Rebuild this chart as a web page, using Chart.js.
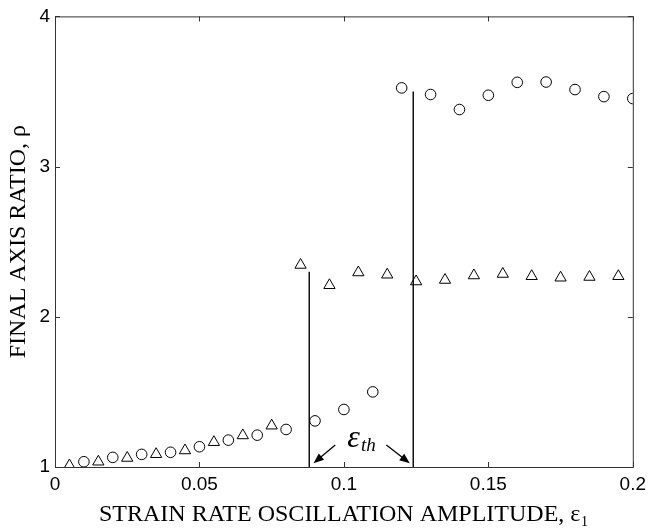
<!DOCTYPE html>
<html>
<head>
<meta charset="utf-8">
<script src="https://cdn.jsdelivr.net/npm/chart.js@4/dist/chart.umd.min.js"></script>
<style>
  html, body { margin: 0; padding: 0; background: #fff; }
</style>
</head>
<body>
<canvas id="ratioChart" width="652" height="529"></canvas>
<script>
// data
const triangleX = [0.005, 0.015, 0.025, 0.035, 0.045, 0.055, 0.065, 0.075, 0.085, 0.095,
                   0.105, 0.115, 0.125, 0.135, 0.145, 0.155, 0.165, 0.175, 0.185, 0.195];
const triangleY = [1.01, 1.035, 1.06, 1.085, 1.11, 1.165, 1.21, 1.275, 2.345, 2.21,
                   2.295, 2.28, 2.235, 2.245, 2.275, 2.285, 2.27, 2.26, 2.265, 2.27];
const circleX = [0.01, 0.02, 0.03, 0.04, 0.05, 0.06, 0.07, 0.08, 0.09, 0.10,
                 0.11, 0.12, 0.13, 0.14, 0.15, 0.16, 0.17, 0.18, 0.19, 0.20];
const circleY = [1.035, 1.064, 1.084, 1.098, 1.135, 1.179, 1.212, 1.25, 1.307, 1.383,
                 1.50, 3.524, 3.48, 3.38, 3.475, 3.561, 3.563, 3.513, 3.466, 3.453];
// threshold lines: x position and top value (they start at 1)
const thresholdX = [0.088, 0.124];
const thresholdTop = [2.30, 3.50];
const xTicks = [0, 0.05, 0.1, 0.15, 0.2];
const yTicks = [1, 2, 3, 4];

const toPoints = (xs, ys) => xs.map((x, i) => ({ x: x, y: ys[i] }));

const datasets = [
    {
        label: 'triangles',
        data: toPoints(triangleX, triangleY),
        pointStyle: 'triangle',
        pointRadius: 6.5,
        borderColor: '#000',
        backgroundColor: 'rgba(0,0,0,0)',
        borderWidth: 1,
        showLine: false
    },
    {
        label: 'circles',
        data: toPoints(circleX, circleY),
        pointStyle: 'circle',
        pointRadius: 5.3,
        borderColor: '#000',
        backgroundColor: 'rgba(0,0,0,0)',
        borderWidth: 1,
        showLine: false
    }
];
thresholdX.forEach((x, i) => {
    datasets.push({
        label: 'threshold ' + i,
        data: [{ x: x, y: 1 }, { x: x, y: thresholdTop[i] }],
        showLine: true,
        pointRadius: 0,
        borderColor: '#000',
        borderWidth: 1.4
    });
});

function arrow(ctx, x1, y1, x2, y2) {
    const ang = Math.atan2(y2 - y1, x2 - x1);
    const head = 11, spread = 0.38;
    ctx.beginPath();
    ctx.moveTo(x1, y1);
    ctx.lineTo(x2 - Math.cos(ang) * head * 0.8, y2 - Math.sin(ang) * head * 0.8);
    ctx.stroke();
    ctx.beginPath();
    ctx.moveTo(x2, y2);
    ctx.lineTo(x2 - head * Math.cos(ang - spread), y2 - head * Math.sin(ang - spread));
    ctx.lineTo(x2 - head * Math.cos(ang + spread), y2 - head * Math.sin(ang + spread));
    ctx.closePath();
    ctx.fill();
}

// box, inside ticks and the epsilon_th note
const framePlugin = {
    id: 'frame',
    afterDraw(chart) {
        const { ctx, chartArea: a, scales: { x, y } } = chart;
        ctx.save();
        ctx.strokeStyle = '#333';
        ctx.lineWidth = 1;
        ctx.strokeRect(a.left + 0.5, a.top + 0.5, a.right - a.left, a.bottom - a.top);
        const tl = 5;
        ctx.beginPath();
        xTicks.forEach(v => {
            const px = Math.round(x.getPixelForValue(v)) + 0.5;
            ctx.moveTo(px, a.bottom); ctx.lineTo(px, a.bottom - tl);
            ctx.moveTo(px, a.top); ctx.lineTo(px, a.top + tl);
        });
        yTicks.forEach(v => {
            const py = Math.round(y.getPixelForValue(v)) + 0.5;
            ctx.moveTo(a.left, py); ctx.lineTo(a.left + tl, py);
            ctx.moveTo(a.right, py); ctx.lineTo(a.right - tl, py);
        });
        ctx.stroke();

        // annotation
        ctx.fillStyle = '#000';
        ctx.strokeStyle = '#000';
        ctx.lineWidth = 1.3;
        arrow(ctx, x.getPixelForValue(0.097), y.getPixelForValue(1.146),
                   x.getPixelForValue(0.0895), y.getPixelForValue(1.025));
        arrow(ctx, x.getPixelForValue(0.1147), y.getPixelForValue(1.146),
                   x.getPixelForValue(0.1228), y.getPixelForValue(1.025));
        const ex = x.getPixelForValue(0.1012), ey = y.getPixelForValue(1.135);
        ctx.textBaseline = 'alphabetic';
        ctx.textAlign = 'left';
        ctx.font = 'italic 32px "Liberation Serif"';
        ctx.fillText('\u03b5', ex, ey);
        const w = ctx.measureText('\u03b5').width;
        ctx.font = 'italic 19px "Liberation Serif"';
        ctx.fillText('th', ex + w + 1, ey + 4);
        ctx.restore();
    }
};

const ctx = document.getElementById('ratioChart').getContext('2d');
new Chart(ctx, {
    type: 'scatter',
    data: { datasets: datasets },
    options: {
        responsive: false,
        animation: false,
        layout: { padding: { top: 15, right: 16, left: 0, bottom: 0 } },
        scales: {
            x: {
                type: 'linear',
                min: 0,
                max: 0.2,
                afterBuildTicks: s => { s.ticks = xTicks.map(v => ({ value: v })); },
                afterFit: s => { s.height = 62; },
                grid: { display: false, drawTicks: false },
                border: { display: true, color: '#333' },
                ticks: {
                    padding: 6,
                    color: '#000',
                    font: { family: '"Liberation Sans", Arial', size: 19 },
                    callback: v => String(v)
                },
                title: {
                    display: true,
                    text: 'STRAIN RATE OSCILLATION AMPLITUDE, \u03b5\u2081',
                    color: '#000',
                    font: { family: '"Liberation Serif"', size: 24 },
                    padding: { top: 0, bottom: 0 }
                }
            },
            y: {
                type: 'linear',
                min: 1,
                max: 4,
                afterBuildTicks: s => { s.ticks = yTicks.map(v => ({ value: v })); },
                afterFit: s => { s.width = 55; },
                grid: { display: false, drawTicks: false },
                border: { display: true, color: '#333' },
                ticks: {
                    padding: 5,
                    color: '#000',
                    font: { family: '"Liberation Sans", Arial', size: 19 },
                    callback: v => String(v)
                },
                title: {
                    display: true,
                    text: 'FINAL AXIS RATIO, \u03c1',
                    color: '#000',
                    font: { family: '"Liberation Serif"', size: 24 },
                    padding: { top: 4, bottom: 0 }
                }
            }
        },
        plugins: {
            legend: { display: false },
            tooltip: { enabled: false }
        }
    },
    plugins: [framePlugin]
});
</script>
</body>
</html>
